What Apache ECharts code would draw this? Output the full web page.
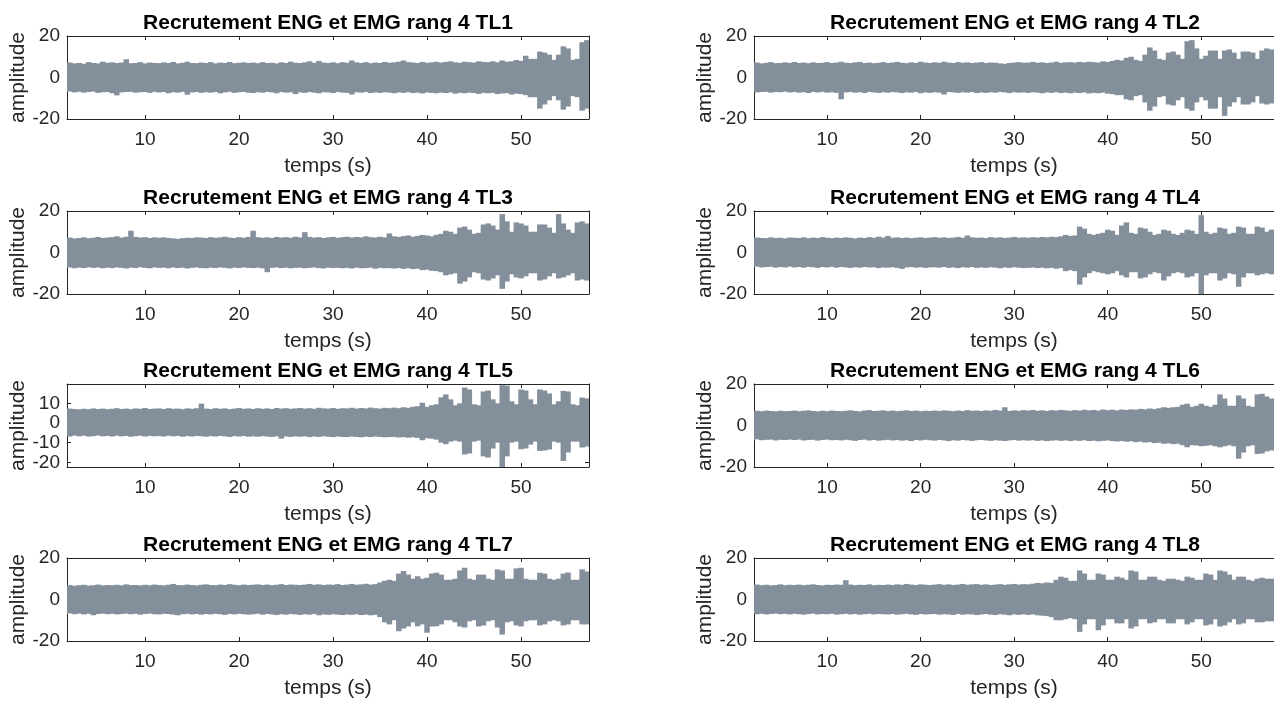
<!DOCTYPE html>
<html>
<head>
<meta charset="utf-8">
<script src="https://cdn.jsdelivr.net/npm/echarts@6/dist/echarts.min.js"></script>
<style>
html,body{margin:0;padding:0;background:#ffffff;}
#chart{width:1274px;height:702px;}
</style>
</head>
<body>
<div id="chart"></div>
<script>
// ---------------- DATA ----------------
// sample times (s) of the envelope readings
const timeS = [
1.5,2,2.5,3,3.5,4,4.5,5,5.5,6,
6.5,7,7.5,8,8.5,9,9.5,10,10.5,11,
11.5,12,12.5,13,13.5,14,14.5,15,15.5,16,
16.5,17,17.5,18,18.5,19,19.5,20,20.5,21,
21.5,22,22.5,23,23.5,24,24.5,25,25.5,26,
26.5,27,27.5,28,28.5,29,29.5,30,30.5,31,
31.5,32,32.5,33,33.5,34,34.5,35,35.5,36,
36.5,37,37.5,38,38.5,39,39.5,40,40.5,41,
41.5,42,42.5,43,43.5,44,44.5,45,45.5,46,
46.5,47,47.5,48,48.5,49,49.5,50,50.5,51,
51.5,52,52.5,53,53.5,54,54.5,55,55.5,56,
56.5,57,57.5,58];

const titles = [
'Recrutement ENG et EMG rang 4 TL1','Recrutement ENG et EMG rang 4 TL2',
'Recrutement ENG et EMG rang 4 TL3','Recrutement ENG et EMG rang 4 TL4',
'Recrutement ENG et EMG rang 4 TL5','Recrutement ENG et EMG rang 4 TL6',
'Recrutement ENG et EMG rang 4 TL7','Recrutement ENG et EMG rang 4 TL8'];

const xTickValues = [10,20,30,40,50];
const yTickValuesStd = [-20,0,20];
const yTickValuesTL5 = [-20,-10,0,10];
const xRangeLeft = [1.7, 57.23];
const xRangeRight = [2.18, 57.78];
const yRangeStd = [-20, 20];
const yRangeTL5 = [-22.4, 19.8];

// upper / lower amplitude envelopes
const tl1Upper = [
7,7.2,6.8,7,6.6,7.4,7,6.8,7.6,7.1,
7.3,7,7.2,8.8,6.9,7,7.4,6.8,7.2,7,
6.9,7.3,7,7.5,6.8,7.1,7.6,7,6.9,7.2,
7,7.4,6.8,7.2,7,7.5,6.9,7.1,7.3,7,
7.2,6.9,7.4,7,7.1,6.8,7.3,7,7.6,7.1,
7,7.3,7.8,7.1,8,7.2,7,7.3,6.9,7.4,
7.1,8.2,7.3,7,7.4,6.9,7.2,7,7.5,7.1,
7.3,7.6,8.2,7.4,7.2,7,7.5,7.1,7.3,7.6,
7.2,7.5,7.8,7.3,7.1,7.6,7.4,7.2,7.8,7.5,
7.4,7.8,7.3,8.2,7.6,7.8,8.4,8,10.5,9,
9,12.5,12,11,8.5,11,15,14,8.5,9,
17,18,16,16];
const tl1Lower = [
-7,-6.8,-7.2,-6.9,-7.3,-7,-6.8,-7.4,-7.1,-7,
-7.6,-8.6,-7.2,-7,-6.9,-7.3,-7.1,-7,-7.4,-6.9,
-7.2,-7,-7.6,-7.1,-7.3,-6.9,-8.3,-7.2,-7,-7.4,
-7.1,-7.3,-7,-7.6,-7.2,-6.9,-7.4,-7.1,-7,-7.3,
-7.5,-7.1,-7.3,-7,-7.2,-7.6,-7,-7.3,-7.1,-8,
-7.2,-7.4,-7,-7.3,-7.6,-7.1,-7.2,-7.5,-7,-7.3,
-7.4,-8.2,-7.1,-7.3,-7,-7.5,-7.2,-7.4,-7.1,-7.3,
-7.6,-7.2,-7.4,-7.1,-7.5,-7.3,-7.7,-7.2,-7.4,-7.6,
-7.3,-7.5,-7.2,-7.8,-7.4,-7.6,-7.3,-7.5,-7.9,-7.4,
-7.6,-7.4,-8,-7.7,-7.5,-8.2,-7.8,-8,-8.5,-9.5,
-9.5,-15,-13,-11,-9,-11,-15.5,-14,-9,-9.5,
-16,-15,-16.5,-16];

const tl2Upper = [
7,7,7.2,6.8,7.1,7.4,6.9,7,7.3,7,
7.5,7,7.2,6.9,7.3,7,7.1,7.4,7,7.2,
7.6,7.1,7,7.3,7.5,7,7.2,6.9,7.1,7.4,
7,7.2,7.5,7.1,6.9,7.3,7,7.6,7.2,7,
7.3,7.1,7.6,7.2,7,7.4,7.1,7.3,7,7.2,
7.4,7,7.2,7.1,6.8,6.6,7,7.2,7.4,7.1,
7.2,7.5,7.1,7.3,7,7.2,7.6,7.1,7.3,7.4,
7.2,7.5,7.3,7.6,7.4,7.2,7.8,7.5,8,8.5,
8.2,9.5,10,8.5,8,11,14.5,13,9,8.5,
12,12.5,11,9,17.5,18,14,9,10.5,13,
13,9,13,13.5,12,9,12.5,12.5,12,9,
13,14,13.5,13];
const tl2Lower = [
-7,-6.8,-7.2,-7,-6.9,-7.3,-7,-7.1,-6.8,-7.2,
-7,-7.3,-7.1,-7.5,-7,-7.2,-6.9,-7.3,-7.1,-7.4,
-10.5,-7.2,-7,-7.3,-7.1,-7.5,-7,-7.2,-7.4,-7.1,
-7.3,-7,-7.2,-7.5,-7.1,-7.3,-7,-7.6,-7.2,-7.4,
-7.1,-7.3,-8.2,-7,-7.2,-7.4,-7.1,-7.3,-7,-7.5,
-7.2,-7.4,-7.1,-7.3,-7,-7.2,-7.5,-7.1,-7.3,-7.2,
-7.4,-7.1,-7.3,-7.6,-7.2,-7.4,-7.1,-7.5,-7.3,-7.6,
-7.3,-7.5,-7.2,-7.7,-7.4,-7.6,-7.3,-7.8,-8,-8.5,
-8.5,-10.5,-11,-9,-8.5,-12,-16,-14,-9.5,-9,
-13,-13.5,-11,-9.5,-15,-16,-12,-9.5,-11,-15,
-15,-9.5,-18.5,-14,-12,-9.5,-13,-13,-12,-9,
-12.5,-13,-12.5,-12];

const tl3Upper = [
7,7.2,6.8,7,7.3,6.9,7.1,7.5,7,7.2,
7.4,7.8,7.2,7.6,10.5,7.5,7.2,7.4,7,7.3,
7.1,7.3,7,6.8,6.6,6.9,7.1,7,7.3,7.2,
7,7.4,7.1,7.3,7.6,7.2,7,7.4,7.1,7.5,
10.5,7.4,7.1,7.3,7,7.5,7.2,7.4,7.1,7.6,
7.3,9.8,7.5,7.2,7.4,7,7.3,7.5,7.1,7.4,
7.6,7.2,7.5,7.3,7.8,7.4,7.2,7.6,7.3,9.2,
7.8,7.5,7.9,8.2,7.6,8,8.5,8.2,7.8,8.5,
9,10.5,10,9,12,12.5,11,9,9.5,13.5,
14,13,11,18.5,15,10,14.5,14,13,10,
10,13.5,13.5,12,9.5,18.5,14,11,9.5,14.5,
15,14,13,13];
const tl3Lower = [
-7.4,-7.2,-7.6,-7.3,-7.5,-7.1,-7.4,-7.2,-7.6,-7.3,
-7.5,-7.2,-7.4,-7.7,-7.3,-7.5,-7.1,-7.4,-7.6,-7.2,
-7.4,-7.3,-7.6,-7.2,-7.5,-7.3,-7.7,-7.4,-7.2,-7.5,
-7.6,-7.3,-7.5,-7.2,-7.4,-7.7,-7.3,-7.5,-7.2,-7.4,
-7.5,-7.3,-7.6,-9.5,-7.4,-7.2,-7.5,-7.3,-7.6,-7.4,
-7.3,-7.6,-7.4,-7.2,-7.5,-7.7,-7.3,-7.5,-7.4,-7.6,
-7.4,-7.7,-7.3,-7.6,-7.5,-7.3,-7.8,-7.4,-7.6,-7.5,
-7.7,-7.5,-7.9,-7.6,-8,-7.8,-8.5,-8.3,-8.8,-9,
-9.5,-11,-10.5,-10,-15,-14,-12,-9.5,-10,-13,
-13.5,-12.5,-11,-17.5,-14,-10.5,-12,-12.5,-11.5,-10,
-10,-13.5,-13,-11.5,-10,-12.5,-12,-11,-10,-13.5,
-13,-13.5,-12.5,-12.5];

const tl4Upper = [
7,6.8,7.2,7,6.9,7.3,7,7.1,6.8,7.2,
7.1,7,7.3,6.9,7.2,7,7.4,7.1,6.9,7.2,
7,7.3,7.1,6.8,7.2,7,7.4,7.1,7.6,7.2,
8,7.1,7.3,7,7.2,6.9,7.1,7.3,7,7.2,
7.4,7.1,7.3,7,7.2,7.5,7.1,8.2,7.3,7.1,
7.2,7,7.4,7.1,7.3,7,7.2,7.5,7.1,7.3,
7.1,7.4,7.2,7.5,7.3,7.6,7.4,7.8,8.5,8,
8.2,12.5,11.5,9,8.5,9,9.5,11,10.5,8.5,
13,14.5,9.5,9,12,11.5,10,8.5,9,11,
10.5,9,8.5,9.5,11,10.5,9,18,10,9,
9.5,12,11.5,9,9.5,12.5,12,9,9,12.5,
12,10,11,11];
const tl4Lower = [
-6.9,-7.1,-6.8,-7.2,-7,-6.9,-7.3,-7,-7.2,-6.8,
-7.2,-7,-7.3,-6.9,-7.1,-7.4,-7,-7.2,-6.9,-7.3,
-7,-7.2,-7.4,-7.1,-7.3,-7,-7.2,-7.1,-7.5,-7.2,
-7.3,-7.1,-7.4,-7.9,-7.2,-7,-7.3,-7.1,-7.4,-7.2,
-7.1,-7.3,-7,-7.4,-7.2,-7.5,-7.1,-7.3,-7,-7.4,
-7.2,-7.4,-7.1,-7.3,-7.6,-7.2,-7.4,-7.1,-7.3,-7.5,
-7.4,-7.2,-7.5,-7.3,-7.6,-7.4,-7.8,-7.5,-9,-8.5,
-9,-15.5,-12,-10,-9,-9.5,-10,-10.5,-10,-9,
-11,-12,-9.5,-9.5,-12.5,-12,-10.5,-9.5,-10,-13.5,
-11.5,-10,-9.5,-10,-12,-11.5,-10,-20,-11,-10,
-10,-13.5,-12.5,-10,-10.5,-16.5,-12,-10,-10,-11,
-10.5,-10,-10.5,-10.5];

const tl5Upper = [
7,7.3,7.1,6.9,7.2,7,7.4,7.1,7.3,7,
7.2,7.5,7.1,7.3,7,7.4,7.2,7.6,7.1,7.3,
7.4,7.1,7.5,7.2,7.3,7,7.4,7.2,7.5,9.8,
7.3,7.1,7.5,7.2,7.4,7,7.3,7.6,7.2,7.4,
7.1,7.5,7.2,7.4,7.1,7.6,7.3,7.5,7.2,7.4,
7.6,7.3,7.5,7.2,7.7,7.4,7.3,7.6,7.2,7.5,
7.4,7.7,7.3,7.6,7.4,7.8,7.5,7.3,7.7,7.5,
7.8,7.5,8,7.7,8.2,8.5,10.3,8.2,9,9.5,
13,14.5,12,9,10,18,17,9.5,9,16,
16.5,12,10,19.2,19,11,9.5,17,16.5,12,
9.5,17,16.5,15,9.5,11,16.3,16,9.5,9,
12.9,12.5,11,11];
const tl5Lower = [
-6.6,-6.9,-6.4,-6.8,-6.5,-6.9,-6.7,-6.4,-6.8,-6.6,
-6.9,-6.5,-6.8,-6.6,-7,-6.7,-6.5,-6.9,-6.6,-6.8,
-6.7,-6.9,-6.5,-6.8,-6.6,-7,-6.7,-6.9,-6.6,-6.8,
-7,-6.7,-6.9,-6.6,-6.8,-7.1,-6.7,-6.9,-6.6,-7,
-6.8,-7,-6.7,-6.9,-7.1,-6.8,-8,-6.9,-7.1,-6.8,
-7,-6.8,-7.2,-6.9,-7.1,-6.8,-7,-7.2,-6.9,-7.1,
-7.2,-6.9,-7.1,-7.3,-7,-7.2,-6.9,-7.1,-7.3,-7.2,
-7.1,-7.4,-7.2,-7.5,-7.3,-7.6,-8.8,-7.8,-8,-8.5,
-10,-10.8,-9.5,-9,-9.5,-16,-15.5,-9.5,-9,-17,
-17.6,-13,-10,-22.5,-17,-10,-9.5,-13.4,-13,-11,
-9.5,-14.2,-14,-13.5,-9.5,-10,-19.3,-15,-9.5,-9.5,
-12.5,-12,-11,-11];

const tl6Upper = [
7,6.8,7.1,6.9,7.2,7,6.8,7.1,6.9,7,
7.2,6.9,7.1,7.3,7,6.8,7.1,6.9,7.2,7,
6.9,7.1,7.3,7,6.8,7.2,7.4,7,7.1,7.3,
7,7.2,6.9,7.1,7.3,7,7.2,6.9,7.1,7,
7.2,7,7.3,7.1,6.9,7.2,7,7.4,7.1,7.2,
7,7.3,7.1,7.5,7.2,8.8,7,7.3,7.1,7.4,
7.2,7.5,7.1,7.3,7,7.4,7.2,7.5,7.3,7.1,
7.4,7.2,7.6,7.3,7.5,7.2,7.7,7.4,7.6,7.3,
7.7,7.5,7.8,7.6,8,7.8,8.2,7.9,8.3,8.8,
8.5,8.8,9,10,10.5,9,9.5,10.5,9.5,9,
10,15,13,9.5,9.5,14.5,13,9.5,9,15,
15.3,14,13,13];
const tl6Lower = [
-6.8,-7,-6.7,-7.1,-6.9,-6.8,-7.2,-6.9,-7,-6.8,
-7,-6.8,-7.2,-7,-6.9,-7.3,-7,-6.8,-7.1,-7,
-7.2,-6.9,-7.1,-7.4,-7,-6.8,-7.2,-7,-7.3,-7.1,
-6.9,-7.2,-7,-7.3,-7.1,-7.5,-7,-7.2,-6.9,-7.1,
-7.3,-7,-7.2,-7.5,-7.1,-7.3,-7,-7.2,-7.4,-7.1,
-7,-7.2,-7.4,-7.1,-7.3,-7.5,-7.2,-7,-7.3,-7.1,
-7.3,-7.1,-7.4,-7.2,-7.5,-7.3,-7.1,-7.4,-7.2,-7.5,
-7.2,-7.4,-7.1,-7.5,-7.3,-7.6,-7.4,-7.2,-7.5,-7.7,
-7.5,-7.8,-7.6,-8,-7.8,-8.2,-8,-8.5,-8.3,-8.8,
-8.6,-9,-8.8,-9.5,-10.5,-9.5,-9.6,-10,-9.8,-9.5,
-10,-10.5,-10,-9.5,-10,-16,-13,-10,-9.5,-13.7,
-13.5,-12.5,-12,-12];

const tl7Upper = [
6.8,7,6.6,6.9,7.1,6.7,6.9,7.2,6.8,7,
6.9,7.1,6.8,7.3,6.9,7,6.8,7.1,6.9,7.2,
7,6.8,7.1,7.5,7,6.9,7.2,7,6.8,7.1,
7.3,7,6.9,7.2,7,7.4,7.1,6.9,7.2,7,
7.1,7.3,7,7.2,6.9,7.1,7.4,7,7.2,7.1,
7,7.2,7.5,7.1,7.3,7,7.2,7.1,7.4,7,
7.2,7.5,7.1,7.3,7.6,7.2,7.4,8.2,9,9.5,
9,12.5,13.7,12,10,11.2,10,10.5,12.5,12.9,
12,9.5,9.5,10,14,15.3,10,9.5,12,12,
10,9.5,14.5,14,10,10,15,15.3,10,9.5,
9.5,12.9,12.5,10,9.5,10,12.5,13,9.5,9.5,
14.5,13.5,12,12];
const tl7Lower = [
-7,-6.7,-7.1,-6.8,-7.2,-6.9,-7.6,-7,-6.8,-7.1,
-6.9,-7.2,-7,-6.8,-7.1,-6.9,-7.3,-7,-6.8,-7.1,
-7.2,-6.9,-7,-7.3,-7.6,-7.1,-6.9,-7.2,-7,-7.3,
-7,-7.2,-6.9,-7.1,-7.4,-7,-7.2,-6.9,-7.1,-7.3,
-7.1,-6.9,-7.3,-7,-7.2,-7.5,-7.1,-7.3,-7,-7.2,
-7.4,-7.1,-7.3,-7,-7.6,-7.2,-7.4,-7.1,-7.3,-7.5,
-7.2,-7.4,-7.1,-7.5,-7.3,-7.6,-7.4,-8.5,-11,-12,
-10,-15.3,-14,-13,-11,-12.9,-12,-16,-13,-12.9,
-12,-10,-10,-11,-13,-13.5,-10.5,-10,-13,-12.5,
-10.5,-10,-13.5,-16.9,-11,-10.5,-12.5,-13,-10.5,-10,
-10,-12.5,-12,-10.5,-10,-10.5,-12.5,-12,-10,-10,
-12,-12,-11,-11];

const tl8Upper = [
6.8,7,7.2,6.9,7.1,6.8,7,7.3,6.9,7.1,
7,7.2,6.9,7.1,7.3,7,6.8,7.1,7,7.2,
7.1,9.3,7.2,6.9,7.1,7,7.3,6.9,7.1,7,
7.2,7,7.3,7.1,7.5,7.2,7,7.3,7.1,7,
7.2,7.4,7.1,7.3,7,7.2,7.5,7.1,7.3,7.4,
7.1,7.3,7,7.2,7.4,7.1,7.3,7.5,7.2,7.4,
7.3,7.6,8,7.8,8.2,8,9.5,11,10.5,9,
9,14,12.5,9.5,9.5,12.5,12,9.5,9.5,11,
10.5,9.5,14,13.5,9.5,9.5,11,11,9.5,9,
10,10,9.5,9,11,10.5,9.5,9.5,12.5,12,
9.5,14,13.5,12,9.5,11,11,9.5,9,10,
10.5,10,10,10];
const tl8Lower = [
-7,-6.8,-7.1,-6.9,-7.2,-7,-6.8,-7.1,-6.9,-7.2,
-6.9,-7.1,-7.3,-7,-6.8,-7.2,-7,-7.1,-6.9,-7.3,
-7.1,-6.9,-7.2,-7,-7.3,-7.1,-6.9,-7.2,-7,-7.1,
-7.2,-7,-7.3,-7.1,-6.9,-7.2,-7.4,-7,-7.2,-7.1,
-7,-7.3,-7.1,-7.2,-7.4,-7,-7.3,-7.1,-7.2,-7.5,
-7.2,-7,-7.3,-7.5,-7.1,-7.3,-7.6,-7.2,-7.4,-7.1,
-7.4,-7.2,-7.6,-7.8,-8,-8.5,-10,-10,-9.5,-9,
-9.5,-15.6,-12,-9.5,-9.5,-14.8,-12.5,-9.5,-9.5,-11.5,
-11.5,-9.5,-14,-13,-9.5,-9.5,-11.5,-11,-9.5,-9.5,
-11.5,-11.5,-9.5,-9.5,-12,-11,-9.5,-9.5,-12.5,-12,
-9.5,-13,-12.5,-11,-9.5,-12,-11.5,-9.5,-9.5,-11,
-11,-10.5,-10.5,-10.5];

// ---------------- LAYOUT / STYLE ----------------
const FONT = '"Liberation Sans", Arial, Helvetica, sans-serif';
const AXIS_COLOR = '#262626';
const SIGNAL_COLOR = '#848f9c';
const colLeft = [67, 754];
const rowTop = [36, 211, 384, 558];
const gridW = 522, gridH = 83;
const HALF_BIN = 0.25; // half of the reading step (s)

const panels = [
  {upper: tl1Upper, lower: tl1Lower, xr: xRangeLeft,  yr: yRangeStd, yt: yTickValuesStd, col: 0, row: 0},
  {upper: tl2Upper, lower: tl2Lower, xr: xRangeRight, yr: yRangeStd, yt: yTickValuesStd, col: 1, row: 0},
  {upper: tl3Upper, lower: tl3Lower, xr: xRangeLeft,  yr: yRangeStd, yt: yTickValuesStd, col: 0, row: 1},
  {upper: tl4Upper, lower: tl4Lower, xr: xRangeRight, yr: yRangeStd, yt: yTickValuesStd, col: 1, row: 1},
  {upper: tl5Upper, lower: tl5Lower, xr: xRangeLeft,  yr: yRangeTL5, yt: yTickValuesTL5, col: 0, row: 2},
  {upper: tl6Upper, lower: tl6Lower, xr: xRangeRight, yr: yRangeStd, yt: yTickValuesStd, col: 1, row: 2},
  {upper: tl7Upper, lower: tl7Lower, xr: xRangeLeft,  yr: yRangeStd, yt: yTickValuesStd, col: 0, row: 3},
  {upper: tl8Upper, lower: tl8Lower, xr: xRangeRight, yr: yRangeStd, yt: yTickValuesStd, col: 1, row: 3}
];

function renderEnvelope(params, api) {
  const t = api.value(0), lo = api.value(1), hi = api.value(2);
  const pTop = api.coord([t - HALF_BIN, hi]);
  const pBot = api.coord([t + HALF_BIN, lo]);
  const cs = params.coordSys;
  const rect = echarts.graphic.clipRectByRect(
    {x: pTop[0] - 0.4, y: pTop[1], width: pBot[0] - pTop[0] + 0.8, height: pBot[1] - pTop[1]},
    {x: cs.x, y: cs.y, width: cs.width, height: cs.height});
  if (!rect) return null;
  return {type: 'rect', shape: rect, style: {fill: SIGNAL_COLOR}};
}

const grids = [], xAxes = [], yAxes = [], series = [], graphics = [];
const lineStyle = {color: AXIS_COLOR, width: 1};

panels.forEach((p, i) => {
  const left = colLeft[p.col], top = rowTop[p.row];
  grids.push({left: left, top: top, width: gridW, height: gridH, containLabel: false});

  xAxes.push({
    gridIndex: i, type: 'value', position: 'bottom', min: p.xr[0], max: p.xr[1],
    axisLine: {show: true, onZero: false, lineStyle: lineStyle},
    axisTick: {show: true, inside: true, length: 4, customValues: xTickValues, lineStyle: lineStyle},
    axisLabel: {show: true, customValues: xTickValues, fontSize: 19, color: AXIS_COLOR, fontFamily: FONT, margin: 11},
    splitLine: {show: false},
    name: 'temps (s)', nameLocation: 'middle', nameGap: 37,
    nameTextStyle: {fontSize: 21, color: AXIS_COLOR, fontFamily: FONT}
  });
  xAxes.push({
    gridIndex: i, type: 'value', position: 'top', min: p.xr[0], max: p.xr[1],
    axisLine: {show: true, onZero: false, lineStyle: lineStyle},
    axisTick: {show: true, inside: true, length: 4, customValues: xTickValues, lineStyle: lineStyle},
    axisLabel: {show: false}, splitLine: {show: false}
  });
  yAxes.push({
    gridIndex: i, type: 'value', position: 'left', min: p.yr[0], max: p.yr[1],
    axisLine: {show: true, onZero: false, lineStyle: lineStyle},
    axisTick: {show: true, inside: true, length: 4, customValues: p.yt, lineStyle: lineStyle},
    axisLabel: {show: true, customValues: p.yt, fontSize: 19, color: AXIS_COLOR, fontFamily: FONT, margin: 7},
    splitLine: {show: false},
    name: 'amplitude', nameLocation: 'middle', nameGap: 38, nameRotate: 90,
    nameTextStyle: {fontSize: 21, color: AXIS_COLOR, fontFamily: FONT}
  });
  yAxes.push({
    gridIndex: i, type: 'value', position: 'right', min: p.yr[0], max: p.yr[1],
    axisLine: {show: true, onZero: false, lineStyle: lineStyle},
    axisTick: {show: true, inside: true, length: 4, customValues: p.yt, lineStyle: lineStyle},
    axisLabel: {show: false}, splitLine: {show: false}
  });

  series.push({
    type: 'custom', xAxisIndex: 2 * i, yAxisIndex: 2 * i,
    renderItem: renderEnvelope, silent: true, z: 1,
    dimensions: ['t', 'lo', 'hi'],
    encode: {x: 0, y: [1, 2]},
    data: timeS.map((t, j) => [t, p.lower[j], p.upper[j]])
  });

  graphics.push({
    type: 'text', x: left + gridW / 2, y: top - 13, silent: true,
    style: {text: titles[i], fill: '#000000', font: 'bold 21px ' + FONT, align: 'center', verticalAlign: 'middle'}
  });
});

const chart = echarts.init(document.getElementById('chart'), null, {renderer: 'canvas'});
chart.setOption({
  animation: false,
  backgroundColor: '#ffffff',
  grid: grids, xAxis: xAxes, yAxis: yAxes, series: series,
  graphic: graphics
});
</script>
</body>
</html>
